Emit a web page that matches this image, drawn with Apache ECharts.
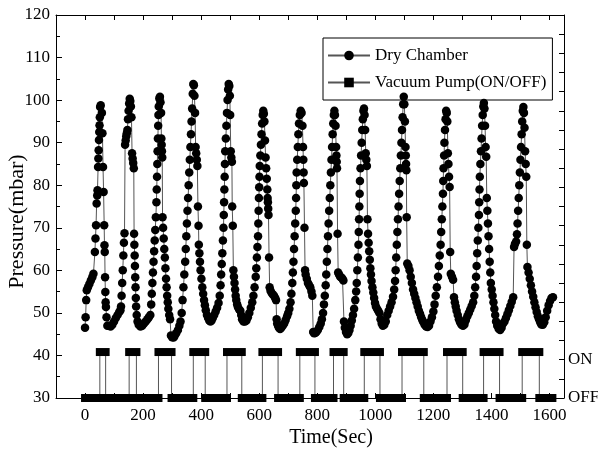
<!DOCTYPE html>
<html>
<head>
<meta charset="utf-8">
<script src="https://cdn.jsdelivr.net/npm/echarts@6/dist/echarts.min.js"></script>
<style>
  html, body { margin: 0; padding: 0; background: #fff; }
  #chart { width: 598px; height: 453px; }
</style>
</head>
<body>
<div id="chart"></div>
<script>
// Dry chamber pressure, [time (s), pressure (mbar)], one array per pump cycle
const cycle01 = [[0,46.5],[2,49],[4,53],[6,55.3],[10,56],[15,56.8],[20,57.6],[25,58.4],[29,59.2],[34,64.3],[36,67.5],[38,70.6],[40,75.7],[42,77.6],[43,78.8],[45,84.3],[46,86.3],[47,88.2],[48,90.6],[49,92.5],[50,94.1],[51,96],[52,98.4],[54,98.8],[58,97],[60,92.2],[62,84.3],[64,78.4],[66,70.6],[67,65.9],[68,64.3],[69,58.4],[70,54.9],[71,52.5],[72,51.4],[74,49],[77,47],[82,47],[88,46.8],[94,47.2],[100,48],[106,48.8],[112,49.5],[118,50.2],[122,50.6]]
const cycle02 = [[124,51.5],[126,54],[128,57],[130,60],[132,63.5],[134,66.5],[136,68.7],[138,89.5],[140,90.5],[142,91.5],[144,92.2],[146,93],[148,95.5],[150,97.5],[152,99.2],[154,100.3],[156,99.8],[158,98.5],[160,96],[162,87.5],[164,86.3],[166,85.2],[168,84],[169,68.6],[170,66],[171,63.5],[172,61],[173,58.4],[174,56],[175,53.5],[176,51.5],[178,49.5],[181,48],[185,47.2],[191,46.8],[197,47],[203,47.5],[209,48],[215,48.5],[220,49]]
const cycle03 = [[225,49.5],[228,52],[230,54.5],[232,57],[234,59.5],[236,62],[238,64.5],[240,67],[242,69.5],[244,72.5],[246,76],[247,79],[248,82],[249,85],[250,88],[251,91],[252,94],[253,96.5],[254,98.5],[256,100.4],[258,100.8],[260,99.5],[262,97],[263,91],[264,89.5],[265,88],[266,86.5],[267,72.5],[269,70],[271,67.5],[273,65],[275,63],[277,60.5],[279,58],[281,56],[283,54],[285,52.5],[287,51],[290,49.5],[293,48.5],[296,44.7],[300,44.3],[305,44.2]]
const cycle04 = [[308,44.5],[314,45.2],[320,46],[325,47],[329,48],[333,50],[336,53],[339,56],[342,59],[345,62],[347,65],[349,68],[351,71],[353,74],[355,77],[357,80],[359,83],[361,86],[363,89],[365,92],[367,95],[369,98],[371,101.5],[373,103.8],[375,103.5],[377,101],[379,97],[381,89],[383,87.5],[385,86],[387,84.5],[389,75],[391,70.5],[392,66],[394,64],[396,62],[398,60],[401,58],[404,56],[407,54.5],[410,53],[413,51.8],[416,50.6],[420,49.5],[424,48.8],[428,48.2],[432,48]]
const cycle05 = [[436,48.2],[440,48.8],[445,49.5],[450,50.3],[455,51.2],[460,52.3],[464,54],[467,56.5],[469,59],[471,61.5],[473,64],[475,67],[477,70],[478,73],[479,76],[480,79],[481,82],[482,85],[483,88],[485,91],[487,94],[489,97],[491,100],[493,102.5],[495,103.8],[497,103.3],[499,101],[500,96.5],[502,88],[504,86.5],[506,85.5],[507,75],[509,70.5],[511,60],[513,58.5],[515,57],[517,55.5],[519,54],[521,53],[524,52],[527,51.3],[531,50.8],[535,50.5],[538,49.5],[541,48.5],[546,48],[551,48],[556,48.2]]
const cycle06 = [[561,49],[566,50],[571,51.2],[576,52.5],[580,54],[584,56],[588,58.5],[590,60.5],[592,63],[594,65.5],[596,68],[597,71],[598,74],[599,77],[600,79.5],[601,82],[602,84.5],[604,87],[606,89.5],[608,92],[610,94.5],[612,96.5],[614,97.5],[616,96.8],[618,95],[620,90.5],[622,86.5],[624,84],[626,81.5],[628,79],[629,77],[630,76],[631,74.5],[632,73],[634,63],[636,56],[639,55.2],[643,54.7],[647,54.3],[651,54],[655,53.5],[658,53],[660,48.5],[662,47.5],[665,47],[668,46.5],[672,46.2]]
const cycle07 = [[676,46.5],[681,47],[686,47.5],[691,48.3],[696,49.2],[700,50],[704,51],[708,52.5],[711,54.5],[714,57],[716,59.5],[718,62],[720,65],[722,68],[724,71],[726,74],[727,77],[728,80],[729,83],[731,86],[733,89],[735,92],[737,94.5],[740,96.5],[743,97.5],[746,97],[749,94],[751,89],[752,86],[753,83],[754,80.5],[756,70],[758,60],[760,59],[764,58],[768,57],[772,56.5],[776,56],[780,55],[783,54],[786,45.5],[789,45.2],[793,45.3]]
const cycle08 = [[797,45.5],[802,46],[807,46.7],[812,47.5],[816,48.5],[820,50],[823,52],[826,54],[829,56.5],[831,59],[833,62],[835,65],[837,68],[839,71],[841,74],[843,77],[845,80],[847,83],[849,86],[851,89],[853,92],[855,94.5],[857,96.5],[859,97.5],[861,96.5],[863,94],[865,89],[866,87],[867,85.5],[868,84],[870,68.6],[872,59.5],[875,59],[879,58.5],[883,58.3],[887,58],[890,57.6],[892,48],[895,46.5],[899,45.5],[903,45],[907,45.3]]
const cycle09 = [[911,46],[915,47],[919,48.2],[923,49.5],[927,51],[931,53],[934,55],[936,57],[938,60],[940,63],[942,66],[943,69],[944,72],[945,75],[946,78],[947,81],[949,84],[951,87],[953,90],[955,93],[957,95.5],[959,97.5],[961,98],[963,96.5],[965,93],[967,87.5],[969,86],[971,84.5],[973,72],[975,68.6],[977,66.5],[979,64.5],[981,62.5],[983,60.5],[985,59],[987,57.5],[990,56],[993,54.8],[996,53.5],[999,52.3],[1002,51.5],[1006,51],[1010,50.5],[1014,50]]
const cycle10 = [[1018,48.5],[1022,47.5],[1026,47],[1031,47.2],[1036,48],[1041,49.5],[1046,50.5],[1051,51.5],[1056,52.5],[1061,53.8],[1065,55.5],[1068,57.5],[1070,60],[1072,63],[1074,66],[1076,69],[1078,72],[1080,75],[1082,78],[1084,81],[1086,84],[1088,87],[1090,90],[1092,93],[1094,96],[1096,99],[1098,100.8],[1100,99],[1102,95],[1104,89],[1105,87],[1106,85],[1107,83.5],[1108,72.5],[1110,61.6],[1114,61],[1118,60],[1122,58.5],[1126,57],[1130,55.5],[1134,54.5],[1138,53.5],[1142,52.5],[1146,51.5],[1150,50.5],[1154,49.8],[1158,49],[1162,48.3],[1166,47.8],[1170,47.2],[1175,46.8],[1180,46.7],[1185,47]]
const cycle11 = [[1190,48],[1195,49],[1200,50.3],[1204,52],[1208,54],[1212,56],[1216,58.5],[1219,61],[1222,63.5],[1225,66],[1227,69],[1229,72],[1231,75],[1233,78],[1234,81],[1235,84],[1237,87],[1238,90],[1240,93],[1242,95.5],[1244,97.5],[1246,97],[1248,95],[1250,87.5],[1252,85],[1254,82],[1256,79.6],[1258,64.3],[1260,59.2],[1264,58.5],[1268,57.8],[1271,53.7],[1274,52.5],[1277,51.5],[1280,50.5],[1284,49.5],[1288,48.5],[1292,47.8],[1297,47.2],[1302,47],[1307,47.3]]
const cycle12 = [[1312,48.3],[1317,49.2],[1322,50],[1327,50.8],[1332,51.6],[1337,52.5],[1341,54],[1344,56],[1347,58.5],[1349,61],[1351,64],[1353,67],[1355,70],[1357,73],[1358,76],[1359,79],[1360,82],[1362,85],[1364,88],[1366,91],[1368,94],[1370,96.5],[1372,98.5],[1374,99.3],[1376,98],[1378,94],[1380,89],[1382,86.7],[1384,77],[1386,74],[1388,71],[1390,68],[1392,65],[1394,62],[1396,59.5],[1398,57],[1401,55.5],[1404,54],[1407,52.5],[1410,51],[1413,49.5],[1416,48],[1420,47],[1425,46.3],[1430,46],[1435,46.5],[1440,47.5]]
const cycle13 = [[1445,48],[1450,48.8],[1455,49.7],[1460,50.6],[1465,51.6],[1470,52.6],[1475,53.7],[1478,65.5],[1481,66.2],[1485,66.8],[1488,68.5],[1490,71],[1492,74],[1494,77],[1496,80],[1498,83],[1500,86],[1502,89],[1504,92],[1506,95],[1508,97.5],[1510,98.4],[1512,97],[1514,93.5],[1516,88],[1518,85],[1520,82],[1522,66],[1524,60.8],[1528,59.5],[1532,58],[1536,56.5],[1540,55],[1544,53.8],[1548,52.5],[1552,51.3],[1556,50.2],[1560,49.2],[1564,48.5],[1568,47.8],[1572,47.3],[1577,47.2],[1582,47.8],[1587,49],[1592,50.5],[1597,51.8],[1602,52.8],[1607,53.5],[1612,53.7]]

// Vacuum pump ON intervals (s)
const pumpOnStart = [51, 152, 253, 373, 489, 611, 740, 856, 962, 1092, 1247, 1373, 1506]
const pumpOnEnd = [71, 177, 298, 414, 540, 665, 792, 891, 1016, 1167, 1301, 1428, 1565]
const pumpFirst = 0
const pumpLast = 1610
const pumpOffLevel = 30
const pumpOnLevel = 40.8

const xTickLabels = [0, 200, 400, 600, 800, 1000, 1200, 1400, 1600]
const stateLabels = { 0: 'OFF', 1: 'ON' }

const FONT = "'Liberation Serif', 'Times New Roman', serif"

const dryChamber = [].concat(cycle01, cycle02, cycle03, cycle04, cycle05, cycle06, cycle07,
  cycle08, cycle09, cycle10, cycle11, cycle12, cycle13)

// step line for the pump, plus the thick ON / OFF bars
const pumpLine = [[pumpFirst, pumpOffLevel]]
const pumpBars = []
let offFrom = pumpFirst
pumpOnStart.forEach((s, i) => {
  const e = pumpOnEnd[i]
  pumpLine.push([s, pumpOffLevel], [s, pumpOnLevel], [e, pumpOnLevel], [e, pumpOffLevel])
  pumpBars.push([offFrom, s, pumpOffLevel])
  pumpBars.push([s, e, pumpOnLevel])
  offFrom = e
})
pumpLine.push([pumpLast, pumpOffLevel])
pumpBars.push([offFrom, pumpLast, pumpOffLevel])

const chart = echarts.init(document.getElementById('chart'))

const axisLine = { show: true, onZero: false, lineStyle: { color: '#000', width: 1 } }
const labelStyle = { color: '#000', fontFamily: FONT, fontSize: 17 }

chart.setOption({
  animation: false,
  backgroundColor: '#fff',
  grid: { left: 56, right: 34, top: 15, bottom: 55, containLabel: false, outerBoundsMode: 'none' },
  legend: {
    data: ['Dry Chamber', 'Vacuum Pump(ON/OFF)'],
    orient: 'vertical',
    left: 323,
    top: 38,
    padding: [9, 6, 9, 4],
    itemGap: 10,
    itemWidth: 42,
    itemHeight: 12,
    borderColor: '#000',
    borderWidth: 1,
    textStyle: { color: '#000', fontFamily: FONT, fontSize: 17 },
  },
  xAxis: [
    {
      type: 'value',
      min: -100,
      max: 1650,
      interval: 100,
      name: 'Time(Sec)',
      nameLocation: 'middle',
      nameGap: 30,
      nameMoveOverlap: false,
      nameTextStyle: { color: '#000', fontFamily: FONT, fontSize: 20, padding: [0, 0, 0, 42] },
      axisLine,
      axisTick: { inside: true, length: 5, lineStyle: { color: '#000' } },
      axisLabel: {
        ...labelStyle,
        margin: 9,
        showMaxLabel: false,
        formatter: (v) => (xTickLabels.includes(v) ? String(v) : ''),
      },
      splitLine: { show: false },
    },
    {
      type: 'value',
      position: 'top',
      min: -100,
      max: 1650,
      interval: 100,
      axisLine,
      axisTick: { inside: true, length: 5, lineStyle: { color: '#000' } },
      axisLabel: { show: false },
      splitLine: { show: false },
    },
  ],
  yAxis: [
    {
      type: 'value',
      min: 30,
      max: 120,
      interval: 10,
      name: 'Pressure(mbar)',
      nameLocation: 'middle',
      nameGap: 28,
      nameMoveOverlap: false,
      nameTextStyle: { color: '#000', fontFamily: FONT, fontSize: 22, padding: [0, 30, 0, 0] },
      axisLine,
      axisTick: { inside: true, length: 6, lineStyle: { color: '#000' } },
      minorTick: { show: true, splitNumber: 2, length: 4, lineStyle: { color: '#000' } },
      axisLabel: { ...labelStyle, margin: 6 },
      splitLine: { show: false },
    },
    {
      type: 'value',
      position: 'right',
      min: 0,
      max: 10,
      interval: 0.5,
      axisLine,
      axisTick: { inside: true, length: 5, lineStyle: { color: '#000' } },
      axisLabel: {
        ...labelStyle,
        margin: 4,
        showMaxLabel: false,
        formatter: (v) => stateLabels[v] || '',
      },
      splitLine: { show: false },
    },
  ],
  series: [
    {
      name: 'Vacuum Pump(ON/OFF)',
      type: 'line',
      data: pumpLine,
      symbol: 'rect',
      symbolSize: 8,
      showSymbol: false,
      lineStyle: { color: '#555', width: 1 },
      itemStyle: { color: '#000' },
      z: 2,
    },
    {
      name: 'pumpBars',
      type: 'custom',
      data: pumpBars,
      encode: { x: [0, 1], y: 2 },
      renderItem: (params, api) => {
        const a = api.coord([api.value(0), api.value(2)])
        const b = api.coord([api.value(1), api.value(2)])
        return {
          type: 'rect',
          shape: { x: a[0] - 4, y: a[1] - 4, width: b[0] - a[0] + 8, height: 8 },
          style: { fill: '#000' },
        }
      },
      z: 3,
    },
    {
      name: 'Dry Chamber',
      type: 'line',
      data: dryChamber,
      symbol: 'circle',
      symbolSize: 8.5,
      showAllSymbol: true,
      lineStyle: { color: '#555', width: 1 },
      itemStyle: { color: '#000' },
      z: 4,
    },
  ],
})
</script>
</body>
</html>
